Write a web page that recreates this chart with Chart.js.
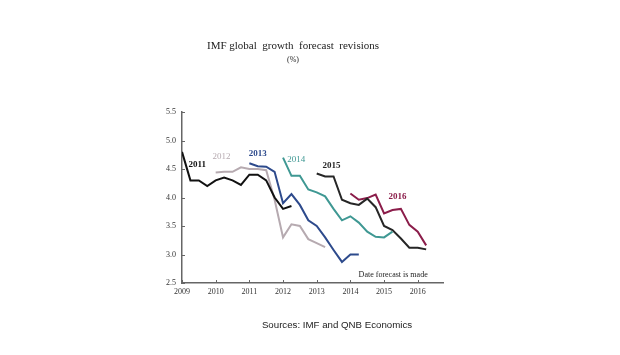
<!DOCTYPE html>
<html>
<head>
<meta charset="utf-8">
<script src="https://cdn.jsdelivr.net/npm/chart.js@4"></script>
<style>
  html, body { margin: 0; padding: 0; background: #fff; }
  #wrap { width: 620px; height: 355px; }
</style>
</head>
<body>
<div id="wrap"><canvas id="c" width="620" height="355"></canvas></div>
<script>
// Forecast dates (year fractions) and forecast values (%) for each target year
const dates2011 = [2009, 2009.25, 2009.5, 2009.75, 2010, 2010.25, 2010.5, 2010.75, 2011, 2011.25, 2011.5, 2011.75, 2012, 2012.25];
const vals2011  = [4.8, 4.3, 4.3, 4.2, 4.3, 4.35, 4.3, 4.22, 4.4, 4.4, 4.3, 4.0, 3.8, 3.85];

const dates2012 = [2010, 2010.25, 2010.5, 2010.75, 2011, 2011.25, 2011.5, 2011.75, 2012, 2012.25, 2012.5, 2012.75, 2013, 2013.25];
const vals2012  = [4.44, 4.45, 4.45, 4.53, 4.5, 4.5, 4.48, 3.96, 3.3, 3.53, 3.5, 3.27, 3.2, 3.13];

const dates2013 = [2011, 2011.25, 2011.5, 2011.75, 2012, 2012.25, 2012.5, 2012.75, 2013, 2013.25, 2013.5, 2013.75, 2014, 2014.25];
const vals2013  = [4.6, 4.55, 4.54, 4.45, 3.9, 4.06, 3.87, 3.6, 3.5, 3.3, 3.08, 2.87, 3.0, 3.0];

const dates2014 = [2012, 2012.25, 2012.5, 2012.75, 2013, 2013.25, 2013.5, 2013.75, 2014, 2014.25, 2014.5, 2014.75, 2015, 2015.25];
const vals2014  = [4.7, 4.38, 4.38, 4.14, 4.09, 4.02, 3.8, 3.6, 3.67, 3.56, 3.4, 3.31, 3.3, 3.4];

const dates2015 = [2013, 2013.25, 2013.5, 2013.75, 2014, 2014.25, 2014.5, 2014.75, 2015, 2015.25, 2015.5, 2015.75, 2016, 2016.25];
const vals2015  = [4.42, 4.37, 4.37, 3.96, 3.9, 3.87, 3.98, 3.83, 3.5, 3.43, 3.28, 3.12, 3.12, 3.09];

const dates2016 = [2014, 2014.25, 2014.5, 2014.75, 2015, 2015.25, 2015.5, 2015.75, 2016, 2016.25];
const vals2016  = [4.07, 3.96, 3.99, 4.05, 3.72, 3.78, 3.8, 3.52, 3.4, 3.16];

const seriesNames = ['2011', '2012', '2013', '2014', '2015', '2016'];
const yTicks = [2.5, 3.0, 3.5, 4.0, 4.5, 5.0, 5.5];
const xTicks = [2009, 2010, 2011, 2012, 2013, 2014, 2015, 2016];

const allDates = [dates2011, dates2012, dates2013, dates2014, dates2015, dates2016];
const allVals  = [vals2011, vals2012, vals2013, vals2014, vals2015, vals2016];
const colors   = ['#111111', '#b6aab0', '#2d4a8c', '#3f9893', '#262626', '#8b1d4a'];

// Series label placement in data coordinates
const labelSpots = [
  { x: 2009.45, y: 4.57, bold: true,  idx: 0 },
  { x: 2010.17, y: 4.72, bold: false, idx: 1 },
  { x: 2011.25, y: 4.775, bold: true, idx: 2 },
  { x: 2012.39, y: 4.66, bold: false, idx: 3 },
  { x: 2013.44, y: 4.56, bold: true,  idx: 4 },
  { x: 2015.4,  y: 4.01, bold: true,  idx: 5 }
];

function toPoints(ds, vs) { return ds.map((d, i) => ({ x: d, y: vs[i] })); }

const datasets = seriesNames.map((name, i) => ({
  label: name,
  data: toPoints(allDates[i], allVals[i]),
  borderColor: colors[i],
  backgroundColor: colors[i],
  borderWidth: 2,
  pointRadius: 0,
  tension: 0,
  fill: false
}));

const textPlugin = {
  id: 'texts',
  afterDraw(chart) {
    const ctx = chart.ctx;
    const xs = chart.scales.x, ys = chart.scales.y;
    ctx.save();
    // inward tick marks
    ctx.strokeStyle = '#666';
    ctx.lineWidth = 1;
    xTicks.forEach(t => {
      const px = Math.round(xs.getPixelForValue(t)) + 0.5;
      ctx.beginPath(); ctx.moveTo(px, ys.bottom); ctx.lineTo(px, ys.bottom - 3); ctx.stroke();
    });
    yTicks.forEach(t => {
      const py = Math.round(ys.getPixelForValue(t)) + 0.5;
      ctx.beginPath(); ctx.moveTo(xs.left, py); ctx.lineTo(xs.left + 3, py); ctx.stroke();
    });
    // title
    ctx.textAlign = 'center';
    ctx.textBaseline = 'middle';
    ctx.fillStyle = '#222';
    ctx.font = '11px "Liberation Serif"';
    ctx.fillText('IMF global  growth  forecast  revisions', 293, 46);
    ctx.font = '8px "Liberation Serif"';
    ctx.fillText('(%)', 293, 60);
    // series labels
    labelSpots.forEach(s => {
      ctx.font = (s.bold ? 'bold ' : '') + '9px "Liberation Serif"';
      ctx.fillStyle = colors[s.idx];
      ctx.fillText(seriesNames[s.idx], xs.getPixelForValue(s.x), ys.getPixelForValue(s.y));
    });
    ctx.font = '8px "Liberation Serif"';
    ctx.fillStyle = '#222';
    ctx.fillText('Date forecast is made', xs.getPixelForValue(2015.27), ys.getPixelForValue(2.65));
    // source
    ctx.font = '9.7px "Liberation Sans"';
    ctx.fillStyle = '#222';
    ctx.fillText('Sources: IMF and QNB Economics', 337, 325);
    ctx.restore();
  }
};

new Chart(document.getElementById('c'), {
  type: 'line',
  data: { datasets },
  options: {
    responsive: false,
    animation: false,
    layout: { padding: { left: 150, right: 177, top: 112, bottom: 52 } },
    plugins: { legend: { display: false }, tooltip: { enabled: false } },
    scales: {
      x: {
        type: 'linear',
        min: 2009,
        max: 2016.75,
        afterFit(s) { s.height = 20; },
        afterBuildTicks(s) { s.ticks = xTicks.map(v => ({ value: v })); },
        grid: { display: false, drawTicks: false, tickLength: 0 },
        border: { display: true, color: '#666', width: 1.5 },
        ticks: {
          padding: 4,
          color: '#333',
          font: { family: 'Liberation Serif', size: 8 },
          callback: v => String(v)
        }
      },
      y: {
        min: 2.5,
        max: 5.5,
        afterFit(s) { s.width = 32; },
        afterBuildTicks(s) { s.ticks = yTicks.map(v => ({ value: v })); },
        grid: { display: false, drawTicks: false, tickLength: 0 },
        border: { display: true, color: '#666', width: 1.5 },
        ticks: {
          padding: 6,
          color: '#333',
          font: { family: 'Liberation Serif', size: 8 },
          callback: v => Number(v).toFixed(1)
        }
      }
    }
  },
  plugins: [textPlugin]
});
</script>
</body>
</html>
